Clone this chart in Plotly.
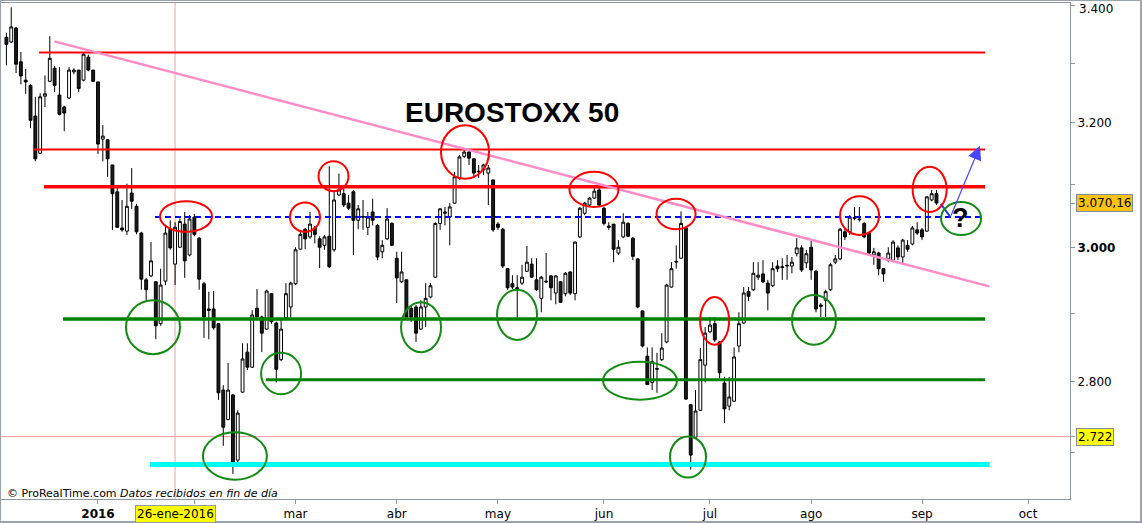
"""
EUROSTOXX 50 - grafico diario con niveles y zonas marcadas (estilo ProRealTime)
"""

import math
import pandas as pd
import plotly.graph_objects as go

# ---------------------------------------------------------------------------
# Sesiones (dias habiles sin festivos de Eurex)
# ---------------------------------------------------------------------------
HOLIDAYS = ["2015-12-24", "2015-12-25", "2015-12-31", "2016-01-01", "2016-03-25", "2016-03-28"]
sessions = pd.bdate_range("2015-12-02", "2016-09-06", freq="C", holidays=HOLIDAYS)
dates = [d.strftime("%Y-%m-%d 12:00") for d in sessions]

# ---------------------------------------------------------------------------
# OHLC
# ---------------------------------------------------------------------------
open_ = [
    3344, 3336, 3360, 3302, 3271, 3262, 3211, 3150, 3244, 3269,
    3291, 3246, 3226, 3241, 3285, 3288, 3271, 3310, 3288, 3268,
    3173, 3172, 3131, 3088, 3031, 3026, 3086, 3065, 3023, 2951,
    2957, 2948, 2885, 2949, 3029, 2975, 3001, 3037, 2989, 3048,
    3015, 2945, 2907, 2907, 2885, 2788, 2746, 2781, 2689, 2785,
    2843, 2821, 2908, 2895, 2877, 2930, 2886, 2832, 2894, 2910,
    2945, 2998, 3029, 3017, 3031, 3014, 3004, 3018, 2997, 3083,
    3085, 3070, 3088, 3043, 3049, 3032, 3056, 3035, 2994, 3014,
    3038, 2984, 2948, 2951, 2908, 2910, 2877, 2910, 2925, 2955,
    3038, 3054, 3048, 3070, 3110, 3145, 3152, 3141, 3121, 3123,
    3118, 3107, 3037, 3029, 2968, 2945, 2939, 2946, 2964, 2975,
    2951, 2923, 2949, 2957, 2931, 2948, 2930, 2963, 2930, 3017,
    3054, 3067, 3078, 3091, 3062, 3034, 3037, 2992, 3017, 3038,
    3015, 2983, 2904, 2837, 2799, 2818, 2832, 2858, 2940, 2978,
    2984, 3031, 2767, 2721, 2759, 2824, 2873, 2885, 2858, 2798,
    2765, 2772, 2852, 2886, 2933, 2936, 2955, 2960, 2946, 2942,
    2972, 2971, 2972, 2972, 2991, 3000, 2977, 3001, 2964, 2913,
    2920, 2936, 2978, 2983, 3025, 3025, 3046, 3045, 3038, 3023,
    2989, 2992, 2968, 2983, 2981, 3000, 2986, 3004, 3006, 3028,
    3028, 3026, 3075, 3085,
]
high = [
    3352, 3396, 3362, 3319, 3290, 3264, 3243, 3249, 3279, 3346,
    3295, 3293, 3228, 3293, 3291, 3288, 3317, 3314, 3288, 3268,
    3196, 3173, 3131, 3099, 3075, 3101, 3126, 3069, 3025, 2954,
    3009, 2949, 2968, 3035, 3043, 3040, 3046, 3056, 3051, 3053,
    3017, 2948, 2933, 2934, 2886, 2795, 2827, 2782, 2759, 2856,
    2856, 2905, 2937, 2897, 2936, 2931, 2888, 2891, 2946, 2948,
    3001, 3028, 3031, 3056, 3034, 3018, 3020, 3129, 3091, 3117,
    3094, 3083, 3091, 3067, 3075, 3056, 3077, 3037, 3012, 3062,
    3040, 2994, 2994, 2952, 2913, 2913, 2920, 2946, 2946, 3040,
    3062, 3064, 3070, 3120, 3147, 3155, 3157, 3142, 3131, 3133,
    3131, 3107, 3040, 3031, 2969, 2958, 2958, 2974, 3003, 2984,
    2984, 2957, 2992, 2958, 2958, 2949, 2963, 2964, 3010, 3064,
    3072, 3080, 3094, 3094, 3064, 3040, 3037, 3012, 3054, 3040,
    3017, 2984, 2905, 2850, 2850, 2842, 2871, 2945, 2978, 3004,
    3057, 3031, 2768, 2788, 2849, 2880, 2895, 2895, 2859, 2807,
    2807, 2850, 2902, 2940, 2940, 2978, 2978, 2981, 2951, 2978,
    2981, 2984, 2989, 2986, 3015, 3004, 2997, 3012, 2966, 2916,
    2936, 2977, 2989, 3031, 3031, 3051, 3064, 3064, 3040, 3025,
    3000, 2994, 2969, 3001, 3012, 3004, 3014, 3012, 3034, 3040,
    3031, 3081, 3091, 3091,
]
low = [
    3296, 3334, 3283, 3264, 3248, 3191, 3137, 3149, 3226, 3268,
    3251, 3212, 3186, 3239, 3281, 3251, 3269, 3286, 3268, 3149,
    3137, 3112, 3028, 3031, 3025, 3020, 3061, 3021, 2936, 2920,
    2955, 2862, 2882, 2943, 2997, 2943, 3000, 2954, 2987, 3018,
    2936, 2864, 2862, 2876, 2774, 2709, 2745, 2670, 2686, 2784,
    2817, 2820, 2894, 2843, 2876, 2885, 2799, 2830, 2892, 2894,
    2943, 2997, 2998, 3014, 3007, 2969, 2997, 2969, 2994, 3081,
    3064, 3059, 2989, 3029, 3028, 3020, 3035, 2981, 2984, 3012,
    3003, 2916, 2946, 2894, 2888, 2858, 2876, 2880, 2923, 2954,
    3028, 3035, 3004, 3069, 3107, 3142, 3131, 3110, 3110, 3115,
    3067, 3025, 3028, 2969, 2936, 2937, 2894, 2943, 2963, 2954,
    2934, 2902, 2946, 2920, 2914, 2916, 2926, 2928, 2920, 3015,
    3051, 3065, 3077, 3065, 3035, 3028, 2978, 2989, 3015, 3017,
    2981, 2908, 2850, 2795, 2788, 2784, 2830, 2856, 2939, 2968,
    2983, 2774, 2676, 2720, 2758, 2799, 2871, 2858, 2805, 2741,
    2759, 2771, 2843, 2885, 2919, 2934, 2951, 2946, 2905, 2940,
    2963, 2951, 2951, 2961, 2987, 2963, 2969, 2951, 2902, 2895,
    2895, 2934, 2975, 2981, 3012, 3020, 3043, 3041, 3015, 2989,
    2974, 2958, 2948, 2978, 2980, 2981, 2974, 2994, 3004, 3020,
    3012, 3025, 3073, 3067,
]
close = [
    3332, 3362, 3298, 3278, 3268, 3204, 3141, 3243, 3248, 3308,
    3262, 3214, 3216, 3288, 3288, 3257, 3315, 3288, 3269, 3165,
    3178, 3141, 3085, 3032, 3028, 3065, 3073, 3025, 2952, 2936,
    2980, 2882, 2943, 3023, 3000, 3032, 3041, 2980, 3045, 3021,
    2952, 2895, 2905, 2879, 2784, 2735, 2788, 2686, 2755, 2833,
    2821, 2898, 2895, 2871, 2934, 2888, 2818, 2877, 2930, 2946,
    2997, 3021, 3014, 3037, 3021, 3001, 3017, 2971, 3075, 3091,
    3067, 3062, 3043, 3061, 3048, 3048, 3043, 2986, 3004, 3045,
    3004, 2954, 2963, 2895, 2895, 2871, 2910, 2923, 2942, 3038,
    3061, 3056, 3064, 3112, 3144, 3152, 3142, 3118, 3120, 3131,
    3126, 3028, 3032, 2972, 2939, 2940, 2936, 2955, 2978, 2955,
    2936, 2955, 2948, 2939, 2957, 2917, 2961, 2931, 3009, 3062,
    3070, 3078, 3089, 3067, 3038, 3032, 2998, 3001, 3040, 3018,
    2987, 2910, 2852, 2796, 2829, 2819, 2849, 2943, 2968, 2979,
    3038, 2775, 2696, 2758, 2832, 2871, 2883, 2861, 2813, 2761,
    2778, 2836, 2885, 2931, 2926, 2961, 2958, 2948, 2931, 2968,
    2968, 2970, 2973, 2978, 3000, 2966, 2991, 2966, 2907, 2911,
    2933, 2974, 2983, 3029, 3017, 3048, 3047, 3044, 3017, 2992,
    2994, 2968, 2960, 2992, 3009, 2986, 3012, 2998, 3031, 3023,
    3017, 3080, 3085, 3070.16,
]

ULTIMO = 3070.16
CURSOR_FECHA = "2016-01-26 12:00"
CURSOR_PRECIO = 2722

# ---------------------------------------------------------------------------
# Niveles horizontales trazados a mano
# ---------------------------------------------------------------------------
niveles_precio = [3318, 3156, 3096, 3048, 2892, 2803, 2683]
niveles_desde = ["2015-12-11 06:30", "2015-12-10 05:30", "2015-12-14 07:00", "2016-01-20 08:00",
                 "2015-12-18 06:00", "2016-02-22 09:00", "2016-01-19 07:00"]
niveles_hasta = ["2016-09-20 14:00", "2016-09-20 14:00", "2016-09-20 14:00", "2016-09-19 12:00",
                 "2016-09-20 14:00", "2016-09-20 14:00", "2016-09-21 12:00"]
estilo_niveles = [
    dict(color="#ff0000", width=2),
    dict(color="#ff0000", width=2),
    dict(color="#ff0000", width=3.5),
    dict(color="#0000ff", width=2, dash="6px,4px"),
    dict(color="#008000", width=3.5),
    dict(color="#008000", width=3),
    dict(color="#00ffff", width=5),
]

# Directriz bajista
directriz_x = ["2015-12-16 11:00", "2016-09-21 11:00"]
directriz_y = [3337, 2941]

# Zonas marcadas: centro en fecha, extremos en precio, semiancho en px
rojo_x = ["2016-01-28 18:30", "2016-03-03 11:00", "2016-03-11 09:00", "2016-04-21 16:00", "2016-05-30 10:00",
          "2016-06-22 11:00", "2016-07-04 11:00", "2016-08-15 13:00", "2016-09-05 02:00"]
rojo_arriba = [3073, 3071, 3137, 3196, 3120, 3077, 2925, 3081, 3128]
rojo_abajo = [3025, 3025, 3089, 3109, 3064, 3029, 2854, 3020, 3056]
rojo_rx = [26, 15, 15, 24, 24.5, 19.5, 14.5, 19.5, 17]

verde_x = ["2016-01-19 22:00", "2016-02-11 22:00", "2016-02-25 12:00", "2016-04-08 13:00", "2016-05-06 11:00",
           "2016-06-10 23:30", "2016-06-24 22:30", "2016-08-02 02:00", "2016-09-13 14:30"]
verde_arriba = [2920, 2728, 2842, 2917, 2936, 2829, 2722, 2928, 3072]
verde_abajo = [2840, 2662, 2782, 2843, 2861, 2774, 2665, 2854, 3020]
verde_rx = [27, 32, 20, 20, 20, 37, 18, 22, 20]

# Flechas del escenario
tramo_x = ["2016-09-07 09:30", "2016-09-09 09:30"]
tramo_y = [3069, 3048]
flecha_punta = ("2016-09-19 12:45", 3162)
pregunta = ("2016-09-13 13:00", 3046)

# Eje X
meses_vals = ["2016-01-04 12:00", "2016-02-01 12:00", "2016-03-01 12:00", "2016-04-01 12:00", "2016-05-02 12:00",
              "2016-06-01 12:00", "2016-07-01 12:00", "2016-08-01 12:00", "2016-09-01 12:00", "2016-10-03 12:00"]
meses_txt = ["<b>2016</b>", "", "mar", "abr", "may", "jun", "jul", "ago", "sep", "oct"]

FUENTE = "DejaVu Sans"
GRIS = "#8c99a4"

# ---------------------------------------------------------------------------
# Figura
# ---------------------------------------------------------------------------
fig = go.Figure()

fig.add_trace(go.Candlestick(
    x=dates, open=open_, high=high, low=low, close=close,
    increasing=dict(line=dict(color="#000000", width=1), fillcolor="#ffffff"),
    decreasing=dict(line=dict(color="#000000", width=1), fillcolor="#1a1a1a"),
    showlegend=False, hoverinfo="skip",
))

for precio, x0, x1, estilo in zip(niveles_precio, niveles_desde, niveles_hasta, estilo_niveles):
    fig.add_trace(go.Scatter(
        x=[x0, x1], y=[precio, precio], mode="lines", line=estilo,
        showlegend=False, hoverinfo="skip",
    ))

fig.add_trace(go.Scatter(
    x=directriz_x, y=directriz_y, mode="lines",
    line=dict(color="#ff8cc6", width=2.5), showlegend=False, hoverinfo="skip",
))

fig.add_trace(go.Scatter(
    x=tramo_x, y=tramo_y, mode="lines",
    line=dict(color="#1f3cff", width=2), showlegend=False, hoverinfo="skip",
))

shapes = []
# cursor (cruz)
shapes.append(dict(type="line", xref="x", yref="paper", x0=CURSOR_FECHA, x1=CURSOR_FECHA, y0=0, y1=1,
                   line=dict(color="#f6a3a3", width=1), layer="below"))
shapes.append(dict(type="line", xref="paper", yref="y", x0=0, x1=1, y0=CURSOR_PRECIO, y1=CURSOR_PRECIO,
                   line=dict(color="#f6a3a3", width=1), layer="below"))

for xs, tops, bots, rxs, col in [(rojo_x, rojo_arriba, rojo_abajo, rojo_rx, "#ff0000"),
                                 (verde_x, verde_arriba, verde_abajo, verde_rx, "#138a13")]:
    for cx, top, bot, rx in zip(xs, tops, bots, rxs):
        shapes.append(dict(
            type="circle", xref="x", yref="y", xsizemode="pixel",
            xanchor=cx, x0=-rx, x1=rx, y0=bot, y1=top,
            line=dict(color=col, width=2),
        ))

# marco exterior
shapes.append(dict(type="rect", xref="paper", yref="paper", x0=-0.0009, x1=1.0665, y0=-0.0464, y1=1.006,
                   line=dict(color="#9aa3ab", width=2)))

etiqueta = dict(xref="paper", yref="y", x=1.0056, xanchor="left", yanchor="middle", showarrow=False,
                bordercolor="#7f8c97", borderwidth=1, borderpad=1,
                font=dict(family=FUENTE, size=12, color="#000000"))

annotations = [
    dict(text="<b>EUROSTOXX 50</b>", xref="paper", yref="paper", x=0.478, y=0.8145,
         showarrow=False, font=dict(family="Liberation Sans, Arial", size=28, color="#000000")),
    dict(text="<b>?</b>", xref="x", yref="y", x=pregunta[0], y=math.log10(pregunta[1]),
         showarrow=False, font=dict(family="Liberation Sans, Arial", size=27, color="#000000")),
    dict(text="", xref="x", yref="y", x=flecha_punta[0], y=math.log10(flecha_punta[1]),
         axref="x", ayref="y", ax=tramo_x[1], ay=math.log10(tramo_y[1]),
         showarrow=True, arrowhead=2, arrowsize=2.3, arrowwidth=1.2, arrowcolor="#4646ff"),
    dict(text="© ProRealTime.com <i>Datos recibidos en fin de día</i>", xref="paper", yref="paper",
         x=0.004, y=0.012, xanchor="left", yanchor="middle", showarrow=False,
         font=dict(family=FUENTE, size=11, color="#000000")),
    dict(etiqueta, text="3.070,16", y=math.log10(ULTIMO), bgcolor="#fbc214"),
    dict(etiqueta, text="2.722", y=math.log10(CURSOR_PRECIO), bgcolor="#ffff00"),
    # la etiqueta 3.400 va algo por debajo de su marca, como en el original
    dict(text="3.400", xref="paper", yref="paper", x=1.0065, y=0.987, xanchor="left", yanchor="middle",
         showarrow=False, font=dict(family=FUENTE, size=12, color="#000000")),
    dict(text="26-ene-2016", xref="x", yref="paper", x=CURSOR_FECHA, y=-0.030,
         xanchor="center", yanchor="middle", showarrow=False, bgcolor="#ffff00",
         bordercolor="#8f9aa3", borderwidth=1, borderpad=1,
         font=dict(family=FUENTE, size=12, color="#000000")),
]

fig.update_layout(
    width=1142, height=523,
    margin=dict(l=1, r=72, t=3, b=24, autoexpand=False),
    paper_bgcolor="#ffffff", plot_bgcolor="#ffffff",
    boxgap=0.15,
    showlegend=False,
    shapes=shapes, annotations=annotations,
    font=dict(family=FUENTE, size=12, color="#000000"),
)

fig.update_xaxes(
    type="date", automargin=False,
    range=["2015-12-01 09:00", "2016-10-14 05:00"],
    rangebreaks=[dict(bounds=["sat", "mon"]), dict(values=HOLIDAYS)],
    rangeslider_visible=False,
    tickmode="array", tickvals=meses_vals, ticktext=meses_txt,
    ticks="outside", ticklen=4, tickcolor=GRIS,
    showline=True, linecolor=GRIS, linewidth=1, mirror=True,
    showgrid=False, zeroline=False,
    tickfont=dict(family=FUENTE, size=12, color="#000000"),
)

fig.update_yaxes(
    type="log", side="right", automargin=False,
    range=[math.log10(2635.7), math.log10(3403.7)],
    tickmode="array",
    tickvals=[CURSOR_PRECIO, 2800, 3000, ULTIMO, 3200, 3400],
    ticktext=["", "2.800", "<b>3.000</b>", "", "3.200", ""],
    ticks="outside", ticklen=4, tickcolor=GRIS,
    minor=dict(tickmode="array", tickvals=[2700, 2900, 3100, 3300], ticks="outside",
               ticklen=4, tickcolor=GRIS, showgrid=False),
    showline=True, linecolor=GRIS, linewidth=1, mirror=True,
    showgrid=False, zeroline=False,
    tickfont=dict(family=FUENTE, size=12, color="#000000"),
)

# sin margen del <body> para que el lienzo quede en (0, 0)
fig.write_html("out.html", config={"displayModeBar": False},
               post_script="document.body.style.margin='0';")
